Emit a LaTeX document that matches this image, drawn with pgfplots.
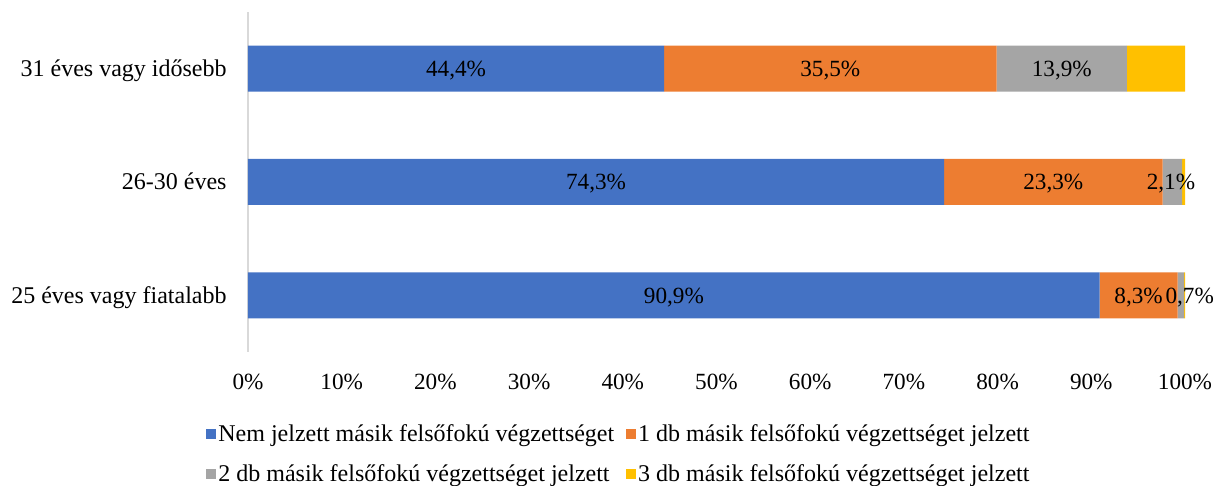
\documentclass[border=0pt]{standalone}
\usepackage{pgfplots}
\pgfplotsset{compat=1.18}
\usepackage{pgfplotstable}
\usepackage{fontspec}
\setmainfont{Liberation Serif}
\definecolor{cblue}{HTML}{4472C4}
\definecolor{corange}{HTML}{ED7D31}
\definecolor{cgray}{HTML}{A5A5A5}
\definecolor{cyellow}{HTML}{FFC000}
\definecolor{caxis}{HTML}{D9D9D9}
\pgfplotstableread{
y a b c d
0 90.9 8.3 0.7 0.1
1 74.3 23.3 2.1 0.3
2 44.4 35.5 13.9 6.2
}\data
\begin{document}
\begin{tikzpicture}[font=\fontsize{12}{14}\selectfont]
\path[use as bounding box] (-124pt,-67pt) rectangle (487.5pt,176pt);
\begin{axis}[
  scale only axis, width=468.5pt, height=170pt,
  xbar stacked, bar width=23pt,
  xmin=0, xmax=100, ymin=-0.5, ymax=2.5,
  separate axis lines,
  axis x line*=bottom, axis y line*=left,
  x axis line style={draw=none},
  y axis line style={draw=caxis, line width=1pt},
  major tick length=0pt,
  xtick={0,10,...,100},
  xticklabels={0\%,10\%,20\%,30\%,40\%,50\%,60\%,70\%,80\%,90\%,100\%},
  xticklabel style={anchor=base, inner sep=0pt, yshift=-19pt, font=\fontsize{11.6}{14}\selectfont},
  ytick={0,1,2},
  yticklabels={25 éves vagy fiatalabb,26-30 éves,31 éves vagy idősebb},
  yticklabel style={anchor=base east, inner sep=0pt, xshift=-10.5pt, yshift=-4pt},
  legend columns=2,
  legend cell align=left,
  legend image code/.code={\fill[#1,draw=none] (0pt,1pt) rectangle (5pt,6pt);},
  legend style={at={(0,0)}, anchor=north west, xshift=-21pt, yshift=-36.5pt,
    draw=none, fill=none, inner sep=0pt, column sep=0pt, row sep=9.5pt,
    nodes={inner sep=0pt, text height=8pt, text depth=2.5pt, anchor=base west},
    /tikz/column 1/.style={column sep=1pt},
    /tikz/column 2/.style={column sep=6pt},
    /tikz/column 3/.style={column sep=1pt}},
]
\addplot[fill=cblue, draw=none] table[x=a, y=y] {\data};
\addplot[fill=corange, draw=none] table[x=b, y=y] {\data};
\addplot[fill=cgray, draw=none] table[x=c, y=y] {\data};
\addplot[fill=cyellow, draw=none] table[x=d, y=y] {\data};
\legend{Nem jelzett másik felsőfokú végzettséget, 1 db másik felsőfokú végzettséget jelzett, 2 db másik felsőfokú végzettséget jelzett, 3 db másik felsőfokú végzettséget jelzett}
\end{axis}
\begin{axis}[
  scale only axis, width=468.5pt, height=170pt,
  xmin=0, xmax=100, ymin=-0.5, ymax=2.5,
  hide axis, clip=false,
]
\addplot[only marks, mark=*, mark size=0pt, mark options={draw=none, fill=none},
  nodes near coords, point meta=explicit symbolic,
  every node near coord/.append style={anchor=base, inner sep=0pt, yshift=-4pt, font=\fontsize{11.6}{14}\selectfont}]
  coordinates {
  (45.45,0) [90,9\%]
  (95.05,0) [8,3\%]
  (100.5,0) [0,7\%]
  (37.15,1) [74,3\%]
  (85.95,1) [23,3\%]
  (98.5,1) [2,1\%]
  (22.2,2) [44,4\%]
  (62.15,2) [35,5\%]
  (86.85,2) [13,9\%]
  };
\end{axis}
\end{tikzpicture}
\end{document}
